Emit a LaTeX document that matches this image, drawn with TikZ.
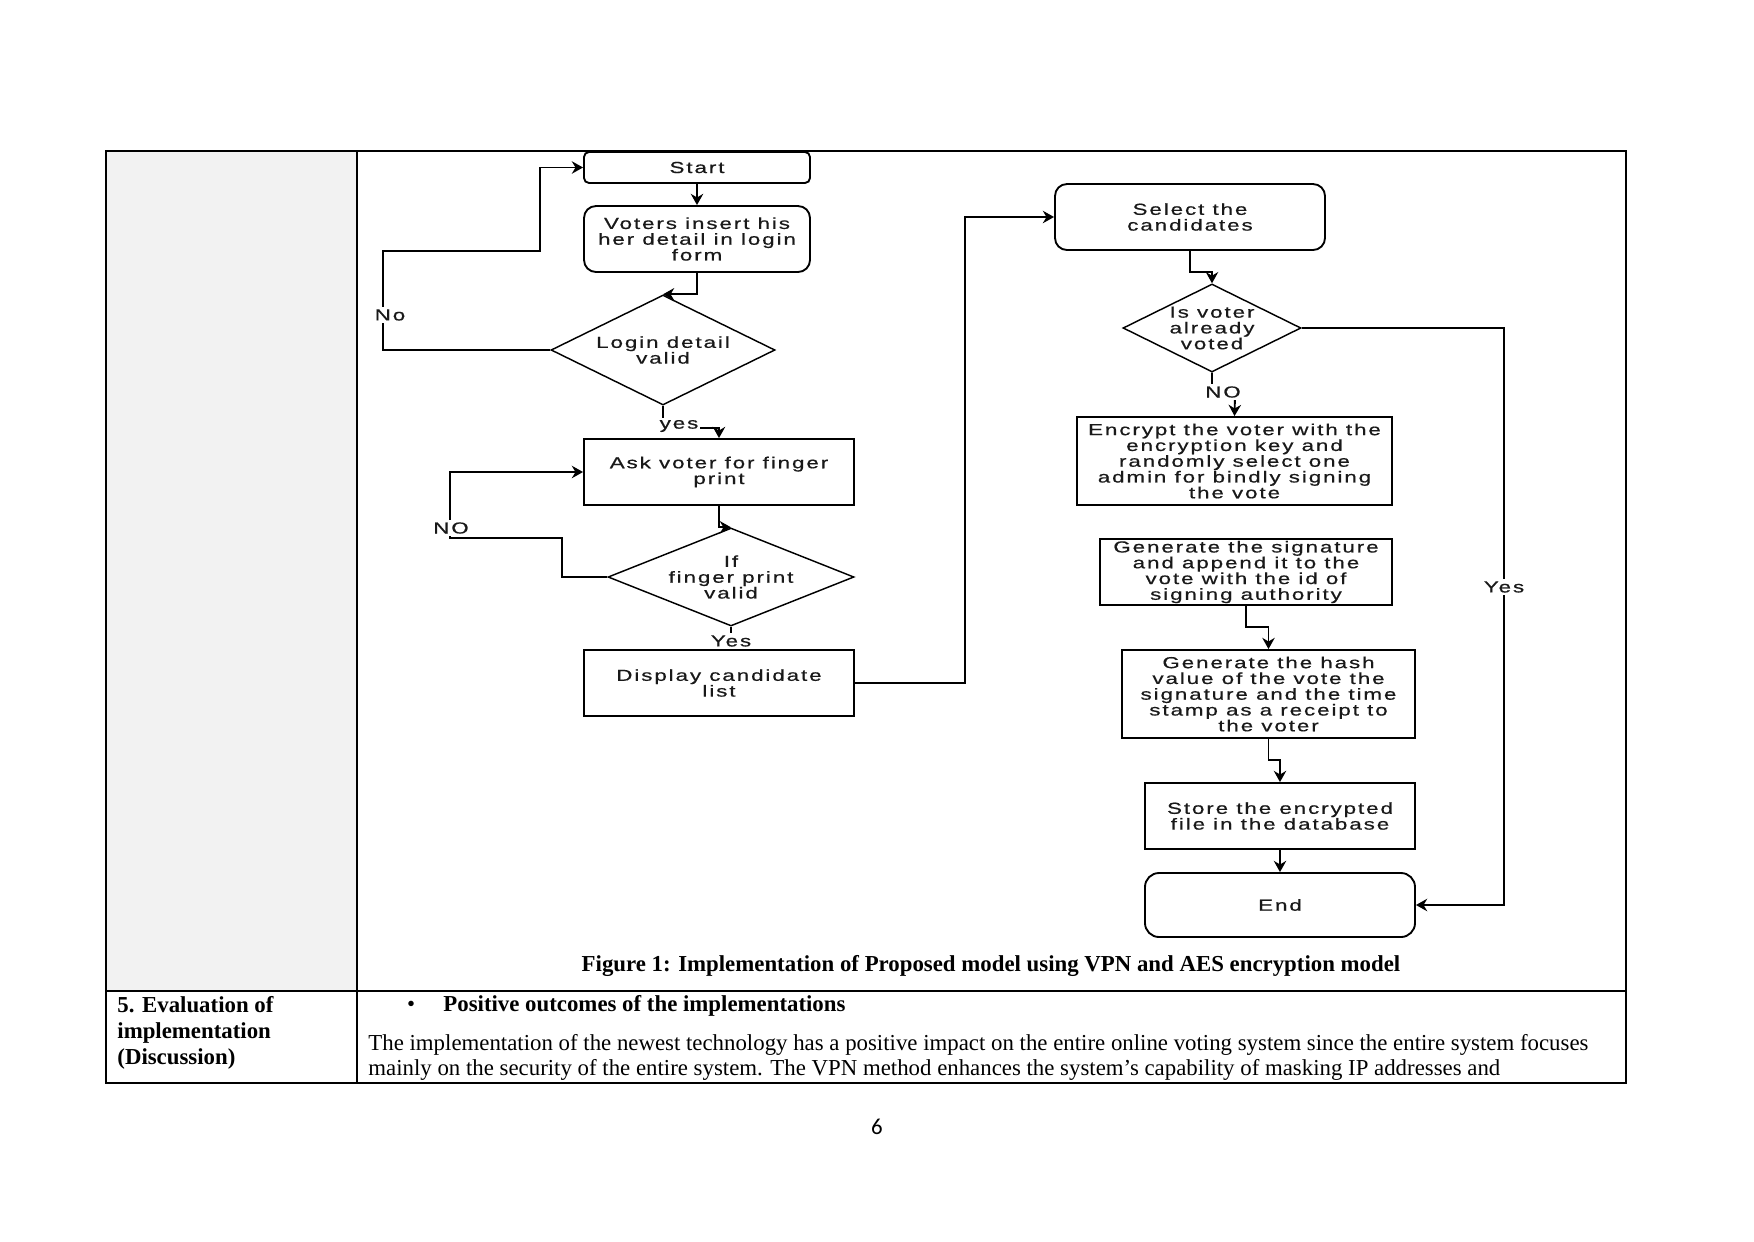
\documentclass[tikz,border=0pt]{standalone}
\usepackage{fontspec}
\setmainfont{Liberation Serif}
\newfontfamily\flowfont[FakeStretch=1.4,LetterSpace=12,FakeBold=0.6]{Liberation Sans}
\newfontfamily\pagefont{Carlito}
\usetikzlibrary{shapes.geometric,arrows.meta}
\newlength\px
\setlength\px{0.16933mm}

\tikzset{
  flow/.style={font=\flowfont\fontsize{7.7}{7.6}\selectfont, text=black!90, align=center, inner sep=0pt},
  procbox/.style={flow, draw, line width=0.9pt},
  roundbox/.style={procbox, rounded corners=12\px},
  decision/.style={flow, draw, line width=0.7pt, shape=diamond, aspect=2, inner sep=-4pt},
  lbl/.style={flow, fill=white, inner sep=1pt},
  link/.style={line width=0.9pt, -{Stealth[length=1.9mm,width=2.1mm]}},
  grid/.style={line width=0.6pt},
}

\begin{document}
\begin{tikzpicture}[x=0.16933mm,y=-0.16933mm]
  \useasboundingbox (0,0) rectangle (1754,1241);
  % table
  \fill[black!5] (106,151) rectangle (357,991);
  \draw[grid] (106,151) rectangle (1626,1083);
  \draw[grid] (357,151) -- (357,1083);
  \draw[grid] (106,991) -- (1626,991);

  % left column of the flow
  \node[roundbox, rounded corners=5\px, minimum width=226\px, minimum height=31\px] (start) at (697,167.5) {Start};
  \node[roundbox, minimum width=226\px, minimum height=66\px] (login) at (697,239) {Voters insert his\\her detail in login\\form};
  \node[decision, minimum width=224\px, minimum height=110\px] (valid) at (663,350) {Login detail\\valid};
  \node[procbox, minimum width=270\px, minimum height=66\px] (ask) at (719,472) {Ask voter for finger\\print};
  \node[decision, minimum width=246\px, minimum height=98\px] (finger) at (731,577) {If\\finger print\\valid};
  \node[procbox, minimum width=270\px, minimum height=66\px] (display) at (719,683) {Display candidate\\list};

  % right column of the flow
  \node[roundbox, minimum width=270\px, minimum height=66\px] (select) at (1190,217) {Select the\\candidates};
  \node[decision, minimum width=178\px, minimum height=88\px] (voted) at (1212,328) {Is voter\\already\\voted};
  \node[procbox, minimum width=315\px, minimum height=88\px] (encrypt) at (1234.5,461) {Encrypt the voter with the\\encryption key and\\randomly select one\\admin for bindly signing\\the vote};
  \node[procbox, minimum width=292\px, minimum height=66\px] (sign) at (1246,572) {Generate the signature\\and append it to the\\vote with the id of\\signing authority};
  \node[procbox, minimum width=293\px, minimum height=88\px] (hash) at (1268.5,694) {Generate the hash\\value of the vote the\\signature and the time\\stamp as a receipt to\\the voter};
  \node[procbox, minimum width=270\px, minimum height=66\px] (store) at (1280,816) {Store the encrypted\\file in the database};
  \node[roundbox, rounded corners=14\px, minimum width=270\px, minimum height=64\px] (finish) at (1280,905) {End};

  % connectors
  \foreach \a/\b in {start/login,store/finish}{\draw[link] (\a) -- (\b);}
  \foreach \a/\b in {login/valid,ask/finger}{\draw[link] (\a.south) |- (\b.north);}
  \draw[link] (valid.west) -| (383,251) -| (540,167.5) -- (start.west);
  \draw[link] (valid.south) |- (719,428) -- (ask.north);
  \draw[link] (finger.west) -| (562,538) -| (450,472) -- (ask.west);
  \draw[link] (finger.south) -- (display.north -| finger.south);
  \draw[link] (display.east) -| (965,217) -- (select.west);
  \draw[link] (select.south) |- (1212,272) -- (voted.north);
  \draw[link] (voted.south) |- (1235,396) -- (encrypt.north);
  \draw[link] (voted.east) -| (1504,905) -- (finish.east);
  \draw[link] (sign.south) |- (1268.5,627) -- (hash.north);
  \draw[link] (hash.south) |- (1280,760) -- (store.north);

  % branch labels
  \node[lbl] (lno) at (390,315) {No};
  \node[lbl] (lyes) at (679,426) {yes};
  \node[lbl] (fno) at (451,528) {NO};
  \node[lbl] (fyes) at (731,641) {Yes};
  \node[lbl] (vno) at (1223,392) {NO};
  \node[lbl] (vyes) at (1504,587) {Yes};

  % caption and text of the table
  \node[anchor=base, font=\bfseries\fontsize{11}{12}\selectfont] (caption) at (991,971.7) {Figure 1: Implementation of Proposed model using VPN and AES encryption model};
  \node[anchor=base west, align=left, inner sep=0pt, font=\bfseries\fontsize{11}{12.5}\selectfont] (section) at (117,1064) {5. Evaluation of\\implementation\\(Discussion)};
  \node[anchor=base, inner sep=0pt, font=\fontsize{11}{12}\selectfont] (bullet) at (411,1011) {\textbullet};
  \node[anchor=base west, inner sep=0pt, font=\bfseries\fontsize{11}{12}\selectfont] (point) at (443,1011) {Positive outcomes of the implementations};
  \node[anchor=base west, align=left, inner sep=0pt, font=\fontsize{11}{12}\selectfont] (body) at (368,1075) {The implementation of the newest technology has a positive impact on the entire online voting system since the entire system focuses\\mainly on the security of the entire system. The VPN method enhances the system’s capability of masking IP addresses and};
  \node[font=\pagefont\fontsize{11}{13}\selectfont] (page) at (877,1127) {6};
\end{tikzpicture}
\end{document}
